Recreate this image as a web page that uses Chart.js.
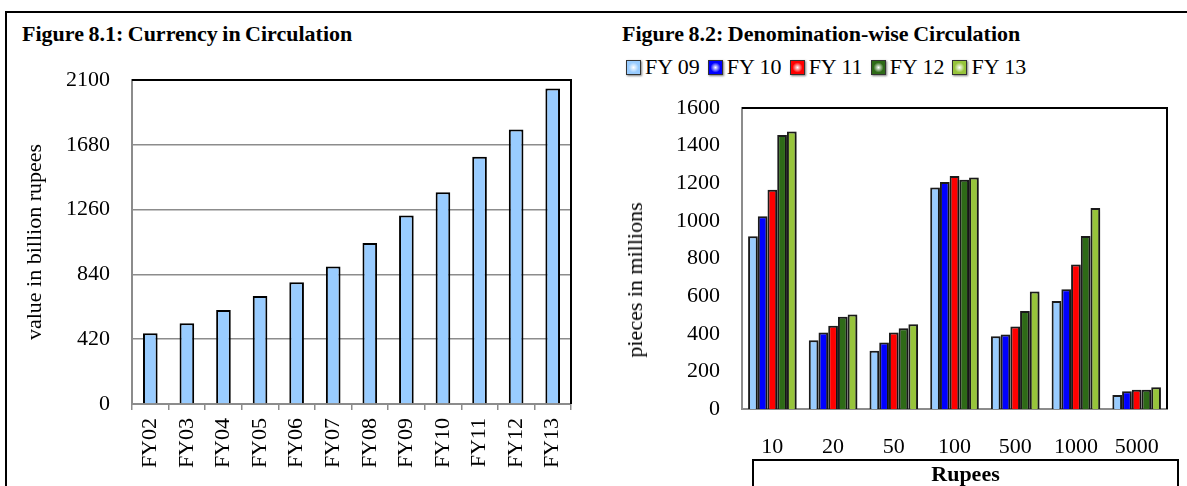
<!DOCTYPE html>
<html>
<head>
<meta charset="utf-8">
<script src="https://cdn.jsdelivr.net/npm/chart.js@4.4.1/dist/chart.umd.min.js"></script>
<style>
  body { margin: 0; background: #fff; }
  #page { position: relative; width: 1187px; height: 486px; overflow: hidden; font-family: "Liberation Serif", "Times New Roman", serif; color: #000; }
  #frame { position: absolute; left: 5px; top: 11px; width: 1200px; height: 500px; border-top: 2px solid #000; border-left: 2px solid #000; }
  canvas { position: absolute; top: 0; }
  .title { position: absolute; top: 23px; font-weight: bold; font-size: 22px; line-height: 22px; white-space: nowrap; word-spacing: -1px; }
  #legend { position: absolute; left: 626px; top: 55px; display: flex; font-size: 22px; line-height: 24px; white-space: nowrap; }
  #legend .item { display: flex; align-items: center; margin-right: 8px; }
  #legend .box { width: 13px; height: 13px; border: 1px solid #333; margin-right: 4px; box-shadow: 1px 1px 2px rgba(0,0,0,0.5); }
  #ytitle2 { position: absolute; left: 635px; top: 280px; font-size: 22px; white-space: nowrap; transform: translate(-50%, -50%) rotate(-90deg); }
  #rupees { position: absolute; left: 752px; top: 459px; width: 423px; height: 40px; border: 2px solid #000; font-weight: bold; font-size: 22px; text-align: center; line-height: 26px; }
</style>
</head>
<body>
<div id="page">
  <div id="frame"></div>
  <div class="title" style="left:22px">Figure 8.1: Currency in Circulation</div>
  <div class="title" style="left:622px">Figure 8.2: Denomination-wise Circulation</div>
  <div id="legend"></div>
  <canvas id="chart1" width="600" height="486" style="left:0"></canvas>
  <canvas id="chart2" width="587" height="486" style="left:600px"></canvas>
  <div id="ytitle2">pieces in millions</div>
  <div id="rupees">Rupees</div>
</div>
<script>
// Figure 8.1
let fyLabels = ["FY02", "FY03", "FY04", "FY05", "FY06", "FY07", "FY08", "FY09", "FY10", "FY11", "FY12", "FY13"]
let circulation = [459, 523, 610, 700, 789, 891, 1044, 1221, 1373, 1602, 1779, 2045]
let leftTicks = [0, 420, 840, 1260, 1680, 2100]

// Figure 8.2
let denominations = ["10", "20", "50", "100", "500", "1000", "5000"]
let seriesNames = ["FY 09", "FY 10", "FY 11", "FY 12", "FY 13"]
let fy09 = [918, 366, 309, 1178, 387, 574, 74]
let fy10 = [1024, 406, 353, 1207, 396, 636, 94]
let fy11 = [1166, 442, 406, 1238, 438, 768, 102]
let fy12 = [1457, 491, 429, 1219, 521, 919, 102]
let fy13 = [1475, 502, 450, 1230, 625, 1069, 115]
let rightTicks = [0, 200, 400, 600, 800, 1000, 1200, 1400, 1600]

let seriesColors = ["#99ccff", "#0000ff", "#ff0000", "#2e6a17", "#97c43b"]
let serif = "'Liberation Serif', 'Times New Roman', serif"

Chart.defaults.font.family = serif
Chart.defaults.color = "#000"

// plain numbers, no thousands separator
let plainTick = (v) => String(v)

// black top and right edges of the plot area
let frameLines = {
  id: "frameLines",
  afterDraw(chart) {
    let ctx = chart.ctx
    let a = chart.chartArea
    ctx.save()
    ctx.strokeStyle = "#000"
    ctx.lineWidth = 2
    ctx.beginPath()
    ctx.moveTo(a.left, a.top)
    ctx.lineTo(a.right, a.top)
    ctx.lineTo(a.right, a.bottom)
    ctx.stroke()
    ctx.restore()
  }
}

// soft shadow behind the bars of figure 8.2
let barShadow = {
  id: "barShadow",
  beforeDatasetsDraw(chart) {
    let ctx = chart.ctx
    ctx.save()
    ctx.shadowColor = "rgba(0,0,0,0.35)"
    ctx.shadowBlur = 5
    ctx.shadowOffsetX = 3
    ctx.shadowOffsetY = 1
  },
  afterDatasetsDraw(chart) {
    chart.ctx.restore()
  }
}

new Chart(document.getElementById("chart1"), {
  type: "bar",
  data: {
    labels: fyLabels,
    datasets: [{
      data: circulation,
      backgroundColor: "#99ccff",
      borderColor: "#000",
      borderWidth: 2,
      categoryPercentage: 1,
      barPercentage: 0.4
    }]
  },
  options: {
    responsive: false,
    animation: false,
    devicePixelRatio: 1,
    layout: { padding: { left: 18, top: 80, right: 29, bottom: 0 } },
    plugins: { legend: { display: false }, tooltip: { enabled: false } },
    scales: {
      x: {
        afterFit: (s) => { s.height = 82 },
        grid: { drawOnChartArea: false, drawTicks: true, tickLength: 6, color: "#8c8c8c", lineWidth: 1.5 },
        border: { color: "#8c8c8c", width: 2 },
        ticks: { font: { size: 22 }, maxRotation: 90, minRotation: 90, padding: 8 }
      },
      y: {
        min: leftTicks[0],
        max: leftTicks[leftTicks.length - 1],
        afterFit: (s) => { s.width = 114 },
        afterBuildTicks: (s) => { s.ticks = leftTicks.map(v => ({ value: v })) },
        grid: { color: "#8c8c8c", lineWidth: 1.5, drawTicks: false },
        border: { color: "#8c8c8c", width: 2 },
        ticks: { font: { size: 22 }, padding: 22, callback: plainTick },
        title: { display: true, text: "value in billion rupees", font: { size: 22 }, padding: { top: 4, bottom: 4 } }
      }
    }
  },
  plugins: [frameLines]
})

let rightSeries = [fy09, fy10, fy11, fy12, fy13]
let rightDatasets = []
for (let i = 0; i < rightSeries.length; i++) {
  rightDatasets.push({
    label: seriesNames[i],
    data: rightSeries[i],
    backgroundColor: seriesColors[i],
    borderColor: "#1c1c1c",
    borderWidth: 2,
    categoryPercentage: 0.8,
    barPercentage: 1
  })
}

new Chart(document.getElementById("chart2"), {
  type: "bar",
  data: { labels: denominations, datasets: rightDatasets },
  options: {
    responsive: false,
    animation: false,
    devicePixelRatio: 1,
    layout: { padding: { left: 18, top: 108, right: 20, bottom: 0 } },
    plugins: { legend: { display: false }, tooltip: { enabled: false } },
    scales: {
      x: {
        afterFit: (s) => { s.height = 77 },
        grid: { display: false, drawTicks: false },
        border: { color: "#8c8c8c", width: 2 },
        ticks: { font: { size: 22 }, padding: 25, maxRotation: 0 }
      },
      y: {
        min: rightTicks[0],
        max: rightTicks[rightTicks.length - 1],
        afterFit: (s) => { s.width = 124 },
        afterBuildTicks: (s) => { s.ticks = rightTicks.map(v => ({ value: v })) },
        grid: { display: false, drawTicks: false },
        border: { color: "#8c8c8c", width: 2 },
        ticks: { font: { size: 22 }, padding: 22, callback: plainTick }
      }
    }
  },
  plugins: [barShadow, frameLines]
})

// legend for figure 8.2
let legend = document.getElementById("legend")
for (let i = 0; i < seriesNames.length; i++) {
  let item = document.createElement("div")
  item.className = "item"
  let box = document.createElement("span")
  box.className = "box"
  box.style.background = `radial-gradient(circle, #ffffff 0%, ${seriesColors[i]} 55%, ${seriesColors[i]} 100%)`
  let text = document.createElement("span")
  text.textContent = seriesNames[i]
  item.appendChild(box)
  item.appendChild(text)
  legend.appendChild(item)
}
</script>
</body>
</html>
